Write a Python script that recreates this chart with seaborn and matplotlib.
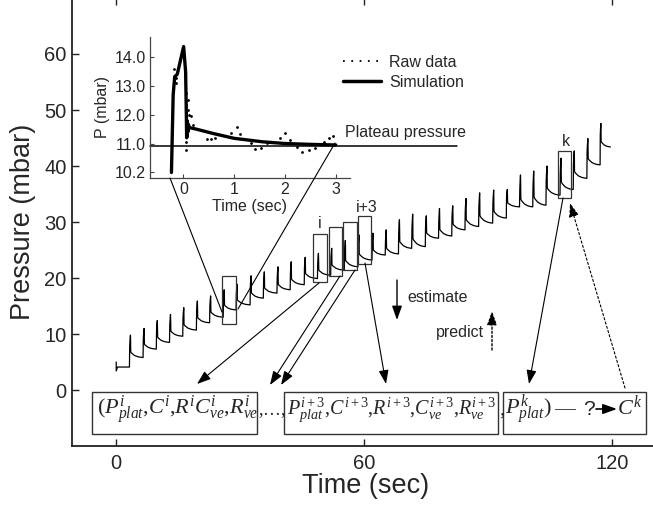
import matplotlib
matplotlib.use("Agg")
import matplotlib.pyplot as plt
import seaborn as sns
from matplotlib.transforms import Affine2D
from matplotlib.patches import Rectangle, FancyArrowPatch
from matplotlib.lines import Line2D

# ---- main trace: one entry per breath ----
breath_onset = [3.2, 6.5, 9.7, 12.9, 16.1, 19.4, 22.6, 25.9, 29.0, 32.4,
                35.6, 38.9, 42.1, 45.5, 48.7, 51.9, 55.2, 58.5, 61.9, 65.1,
                68.3, 71.5, 74.8, 78.0, 81.2, 84.4, 87.7, 91.1, 94.4, 97.6,
                100.8, 104.0, 107.4, 110.6, 113.9, 117.1]
breath_peak = [9.8, 11.0, 12.4, 13.5, 14.7, 15.9, 16.8, 17.9, 18.9, 20.4,
               21.1, 22.0, 22.9, 23.7, 24.4, 25.3, 26.7, 27.7, 28.0, 28.6,
               30.4, 31.4, 31.1, 32.4, 32.9, 34.2, 35.2, 35.7, 35.8, 38.4,
               39.1, 40.0, 41.4, 42.7, 44.9, 47.6]
breath_end = [5.8, 7.3, 8.5, 9.6, 10.7, 12.0, 13.0, 14.3, 15.2, 16.4,
              17.3, 17.9, 18.8, 19.9, 20.5, 21.4, 22.0, 23.2, 24.1, 24.3,
              25.3, 25.6, 27.1, 27.5, 28.6, 29.2, 29.8, 30.7, 32.7, 32.7,
              33.0, 34.8, 35.8, 37.8, 40.2, 43.4]
start_t = [0.0, 0.0, 0.3]
start_p = [5.0, 3.4, 4.1]
last_t = 119.6

# shape of one breath (time after onset, fraction of peak above end level)
shape_dt = [0.06, 0.12, 0.24, 0.28, 0.30, 0.33, 0.48, 0.80, 1.22, 1.78, 2.23, 2.75, 3.25]
shape_frac = [0.51, 0.72, 1.0, 0.745, 0.30, 0.24, 0.20, 0.15, 0.09, 0.05, 0.025, 0.01, 0.0]

# ---- inset: single breath ----
sim_t = [-0.234, -0.20, -0.17, -0.12, 0.006, 0.045, 0.06, 0.065, 0.07, 0.075,
         0.08, 0.09, 0.10, 0.12, 0.25, 0.58, 1.0, 1.56, 2.01, 2.53, 3.0]
sim_p = [10.0, 12.68, 13.31, 13.39, 14.35, 13.48, 11.9, 11.2, 11.8, 11.25,
         11.75, 11.4, 11.65, 11.55, 11.5, 11.35, 11.18, 11.06, 11.0, 10.97, 10.95]
raw_t = [-0.18, -0.15, -0.14, 0.06, 0.09, 0.06, 0.09, 0.11, 0.07, 0.05, 0.06,
         0.16, 0.19, 0.47, 0.55, 0.63, 0.94, 1.05, 1.12, 1.33, 1.41, 1.52,
         1.65, 1.75, 1.91, 2.01, 2.09, 2.24, 2.34, 2.47, 2.60, 2.76, 2.87, 2.94]
raw_p = [13.56, 13.25, 13.08, 12.73, 12.50, 12.33, 12.16, 11.99, 11.30, 11.07, 10.78,
         11.94, 11.64, 11.16, 11.16, 11.18, 11.38, 11.57, 11.33, 11.03, 10.81, 10.86,
         11.01, 11.07, 11.18, 11.35, 11.11, 10.89, 10.70, 10.76, 10.86, 11.07, 11.20, 11.27]
plateau_p = 10.91
inset_yticks = [10.0, 11.0, 12.0, 13.0, 14.0]
inset_ylabels = ["10.2", "11.0", "12.0", "13.0", "14.0"]

# build the trace
trace_t = list(start_t)
trace_p = list(start_p)
prev = start_p[-1]
for j, t0 in enumerate(breath_onset):
    t1 = breath_onset[j + 1] if j + 1 < len(breath_onset) else last_t
    k = (t1 - t0) / shape_dt[-1]
    trace_t.append(t0)
    trace_p.append(prev)
    for dt, f in zip(shape_dt, shape_frac):
        trace_t.append(t0 + dt * k)
        trace_p.append(breath_end[j] + f * (breath_peak[j] - breath_end[j]))
    prev = breath_end[j]

sns.set_style("ticks")
plt.rcParams["font.family"] = ["Liberation Sans", "DejaVu Sans"]
plt.rcParams["mathtext.fontset"] = "custom"
plt.rcParams["mathtext.rm"] = "Liberation Serif"
plt.rcParams["mathtext.it"] = "Liberation Serif:italic"

W, H = 653, 508
fig = plt.figure(figsize=(W / 100, H / 100), dpi=100)
px = Affine2D().scale(1 / W, -1 / H).translate(0, 1) + fig.transFigure

# main axes
ax = fig.add_axes([72 / W, (H - 446) / H, (660 - 72) / W, 448 / H])
sns.lineplot(x=trace_t, y=trace_p, ax=ax, color="black", lw=0.9,
             estimator=None, sort=False)
ax.set_xlim(-10.7, 131.6)
ax.set_ylim(-10, 70)
ax.set_xticks([0, 60, 120])
ax.set_yticks([0, 10, 20, 30, 40, 50, 60])
ax.tick_params(direction="in", length=5, width=1, labelsize=14.5,
               top=True, right=True, color="#222222")
ax.tick_params(axis="y", pad=4)
ax.tick_params(axis="x", pad=6)
for s in ax.spines.values():
    s.set_linewidth(1.3)
    s.set_color("#222222")
ax.set_xlabel("Time (sec)", fontsize=19.5, labelpad=0)
ax.set_ylabel("Pressure (mbar)", fontsize=19.5, labelpad=6)

# inset axes
ax_in = fig.add_axes([150 / W, (H - 178) / H, 200 / W, 141 / H])
ax_in.set_facecolor("none")
sns.scatterplot(x=raw_t, y=raw_p, ax=ax_in, color="black", s=4, linewidth=0)
sns.lineplot(x=sim_t, y=sim_p, ax=ax_in, color="black", lw=2.4,
             estimator=None, sort=False)
ax_in.plot([-0.656, 5.39], [plateau_p, plateau_p], color="black", lw=1.1,
           clip_on=False)
ax_in.set_xlim(-0.656, 3.28)
ax_in.set_ylim(9.81, 14.68)
ax_in.set_xticks([0, 1, 2, 3])
ax_in.set_yticks(inset_yticks)
ax_in.set_yticklabels(inset_ylabels)
ax_in.tick_params(direction="in", length=3, width=0.8, labelsize=11.5, pad=3,
                  color="#444444")
sns.despine(ax=ax_in)
for s in ax_in.spines.values():
    s.set_linewidth(0.9)
    s.set_color("#444444")
ax_in.set_xlabel("Time (sec)", fontsize=11.5, labelpad=1)
ax_in.set_ylabel("P (mbar)", fontsize=11.5, labelpad=3)

handles = [Line2D([], [], color="black", ls=(0, (1, 3.6)), lw=1.3),
           Line2D([], [], color="black", lw=2.5)]
fig.legend(handles, ["Raw data", "Simulation"], loc="upper left",
           bbox_to_anchor=(343 / W, 1 - 55 / H), frameon=False, fontsize=11.5,
           handlelength=2.4, handletextpad=0.5, labelspacing=0.3,
           borderpad=0, borderaxespad=0)
fig.text(345, 133, "Plateau pressure", transform=px, fontsize=11.5,
         ha="left", va="center")

# zoom lines from the inset down to the trace
fig.add_artist(Line2D([170, 222], [178, 312], transform=px, color="black", lw=0.8))
fig.add_artist(Line2D([335, 238], [143, 309], transform=px, color="black", lw=0.8))

# boxes around selected breaths
for x0, y0, x1, y1 in [(222, 276, 236, 324), (313, 234, 327, 282),
                       (329, 227, 342, 276), (343, 222, 357, 270),
                       (358, 216, 371, 264), (558, 151, 571, 198)]:
    fig.add_artist(Rectangle((x0, y0), x1 - x0, y1 - y0, transform=px,
                             fill=False, ec="#333333", lw=0.9))
fig.text(320, 223, "i", transform=px, fontsize=11.5, ha="center", va="center")
fig.text(367, 207, "i+3", transform=px, fontsize=11.5, ha="center", va="center")
fig.text(566, 141, "k", transform=px, fontsize=11.5, ha="center", va="center")

# bottom boxes with the parameter vector
for x0, x1 in [(92, 257), (284, 498), (503, 646)]:
    fig.add_artist(Rectangle((x0, 392), x1 - x0, 42, transform=px,
                             fill=False, ec="#333333", lw=1.0))
fs = 16
fig.text(97, 415, r"$(P^{i}_{plat}{,}C^{i}{,}R^{i}C^{i}_{ve}{,}R^{i}_{ve}$",
         transform=px, fontsize=fs, va="baseline")
fig.text(258, 415, r"${,}\ldots{,}$", transform=px, fontsize=13, va="baseline")
fig.text(287, 415,
         r"$P^{i+3}_{plat}{,}C^{i+3}{,}R^{i+3}{,}C^{i+3}_{ve}{,}R^{i+3}_{ve}$",
         transform=px, fontsize=14.5, va="baseline")
fig.text(499, 415, r"${,}$", transform=px, fontsize=fs, va="baseline")
fig.text(505, 415, r"$P^{k}_{plat})$", transform=px, fontsize=fs, va="baseline")
fig.text(554, 414, "\u2014", transform=px, fontsize=15, va="baseline",
         family="Liberation Serif")
fig.text(583, 415, "?", transform=px, fontsize=15, va="baseline")
fig.text(617, 415, r"$C^{k}$", transform=px, fontsize=fs, va="baseline")


def arrow(p0, p1, ls="-", lw=0.8):
    fig.add_artist(FancyArrowPatch(p0, p1, transform=px, color="black",
                                   arrowstyle="-|>,head_length=0.7,head_width=0.25",
                                   mutation_scale=12, lw=lw, linestyle=ls,
                                   shrinkA=0, shrinkB=0))


arrow((596, 409), (617, 409), lw=1.2)
arrow((319, 283), (197, 384))
arrow((340, 276), (270, 385))
arrow((355, 270), (281, 385))
arrow((365, 263), (386, 384))
arrow((563, 198), (529, 384))
arrow((625, 388), (570, 203), ls=(0, (2, 2)))
arrow((397, 280), (397, 320), lw=1.0)
arrow((492, 350), (492, 311), ls=(0, (1.5, 1.5)), lw=1.0)
fig.text(407, 297, "estimate", transform=px, fontsize=11.5, ha="left", va="center")
fig.text(484, 332, "predict", transform=px, fontsize=11.5, ha="right", va="center")

fig.savefig("out.png", dpi=100)
